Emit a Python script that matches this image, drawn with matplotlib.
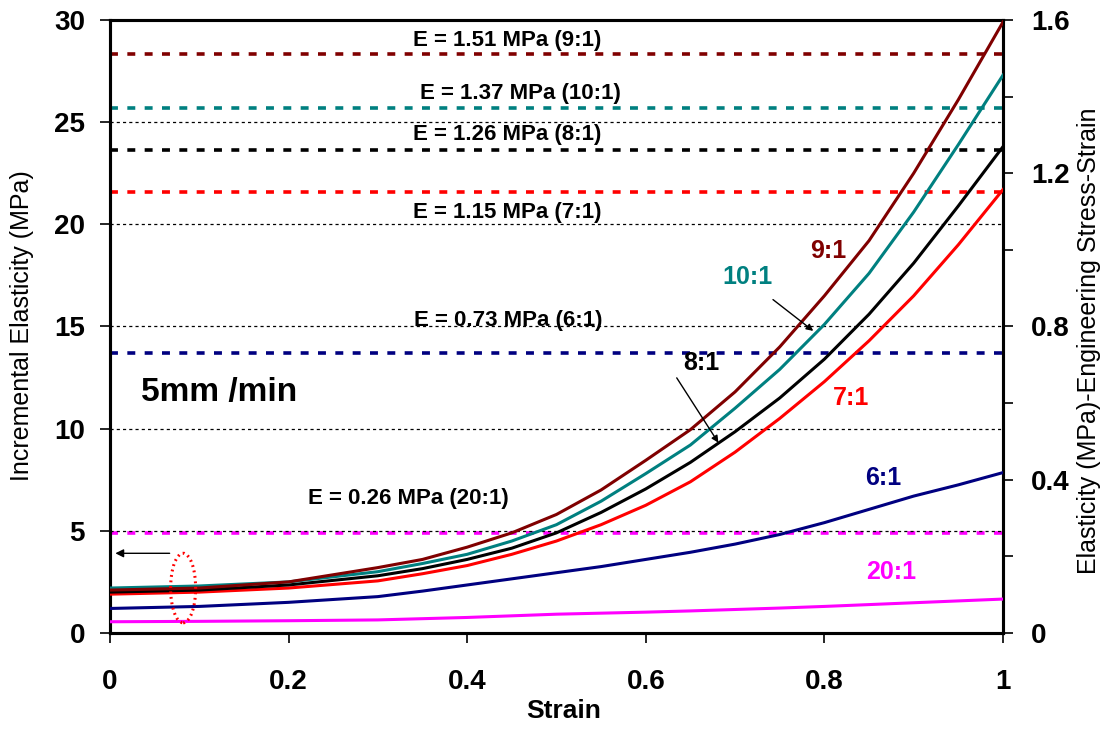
import matplotlib
matplotlib.use("Agg")
import matplotlib.pyplot as plt
from matplotlib.patches import Ellipse
import numpy as np

plt.rcParams['font.family'] = ['Liberation Sans', 'DejaVu Sans']

strain = [0.0, 0.1, 0.2, 0.3, 0.35, 0.4, 0.45, 0.5, 0.55, 0.6, 0.65, 0.7, 0.75, 0.8, 0.85, 0.9, 0.95, 1.0]
e_9_1 = [2.1, 2.2, 2.5, 3.2, 3.6, 4.2, 4.9, 5.8, 7.0, 8.45, 9.95, 11.8, 14.0, 16.5, 19.2, 22.5, 26.1, 29.9]
e_10_1 = [2.2, 2.3, 2.5, 3.0, 3.4, 3.85, 4.5, 5.3, 6.45, 7.8, 9.2, 11.0, 12.9, 15.1, 17.6, 20.6, 23.9, 27.3]
e_8_1 = [2.0, 2.1, 2.35, 2.8, 3.15, 3.6, 4.15, 4.9, 5.9, 7.05, 8.35, 9.85, 11.5, 13.4, 15.6, 18.1, 20.9, 23.8]
e_7_1 = [1.9, 2.0, 2.2, 2.55, 2.9, 3.3, 3.85, 4.5, 5.3, 6.25, 7.4, 8.85, 10.5, 12.3, 14.3, 16.5, 19.0, 21.7]
e_6_1 = [1.2, 1.3, 1.5, 1.78, 2.05, 2.35, 2.65, 2.95, 3.25, 3.6, 3.95, 4.35, 4.82, 5.4, 6.05, 6.7, 7.25, 7.85]
e_20_1 = [0.55, 0.57, 0.6, 0.64, 0.7, 0.76, 0.84, 0.92, 0.97, 1.02, 1.08, 1.15, 1.22, 1.3, 1.39, 1.48, 1.57, 1.66]

ratios = ['9:1', '10:1', '8:1', '7:1', '6:1', '20:1']
colors = ['#800000', '#008080', '#000000', '#FF0000', '#000080', '#FF00FF']
moduli = [1.51, 1.37, 1.26, 1.15, 0.73, 0.26]
mod_labels = ["E = 1.51 MPa (9:1)", "E = 1.37 MPa (10:1)", "E = 1.26 MPa (8:1)",
              "E = 1.15 MPa (7:1)", "E = 0.73 MPa (6:1)", "E = 0.26 MPa (20:1)"]

fig = plt.figure(figsize=(11.1, 7.29), dpi=100)
ax = fig.add_axes([0.099, 0.1317, 0.8046, 0.8409])
ax2 = ax.twinx()

ax.set_xlim(0, 1)
ax.set_ylim(0, 30)
ax2.set_ylim(0, 1.6)

# grid lines
for g in [5, 10, 15, 20, 25]:
    ax.axhline(g, color='black', lw=0.9, ls=(0, (2.5, 2.5)), zorder=1)

# modulus lines on right axis
for m, c in zip(moduli, colors):
    ax2.axhline(m, color=c, lw=2.6, ls=(0, (2.2, 2.6)), zorder=2)

series = [e_9_1, e_10_1, e_8_1, e_7_1, e_6_1, e_20_1]
for i in [5, 4, 3, 2, 1, 0]:
    ax.plot(strain, series[i], color=colors[i], lw=2.2, zorder=3, solid_joinstyle='round')

ax.set_zorder(ax2.get_zorder() + 1)
ax.patch.set_visible(False)

# E labels (positions in strain / left-axis units)
elab_pos = [(0.445, 29.0), (0.46, 26.4), (0.445, 24.4), (0.445, 20.6), (0.446, 15.3), (0.334, 6.6)]
for t, (x, y) in zip(mod_labels, elab_pos):
    ax.text(x, y, t, ha='center', va='center', fontsize=16, fontweight='bold', color='black', zorder=5)

ax.text(0.035, 11.75, "5mm /min", fontsize=24, fontweight='bold', va='center', ha='left')

# curve labels
clab_pos = [(0.804, 18.7), (0.714, 17.4), (0.662, 13.2), (0.83, 11.5), (0.866, 7.6), (0.875, 3.0)]
for t, (x, y), c in zip(ratios, clab_pos, colors):
    ax.text(x, y, t, ha='center', va='center', fontsize=18, fontweight='bold', color=c, zorder=5)

ax.annotate("", xy=(0.79, 14.7), xytext=(0.74, 16.4),
            arrowprops=dict(arrowstyle='-|>', color='black', lw=1.0, mutation_scale=10), zorder=5)
ax.annotate("", xy=(0.683, 9.2), xytext=(0.633, 12.6),
            arrowprops=dict(arrowstyle='-|>', color='black', lw=1.0, mutation_scale=10), zorder=5)
ax.annotate("", xy=(0.003, 3.9), xytext=(0.07, 3.9),
            arrowprops=dict(arrowstyle='-|>', color='black', lw=1.0, mutation_scale=12), zorder=5)
ax.add_patch(Ellipse((0.082, 2.2), 0.028, 3.4, fill=False, edgecolor='red', lw=2.2,
                     ls=(0, (0.6, 1.2)), zorder=6))

# ticks
ax.set_xticks([0, 0.2, 0.4, 0.6, 0.8, 1.0])
ax.set_xticklabels(['0', '0.2', '0.4', '0.6', '0.8', '1'])
ax.set_yticks([0, 5, 10, 15, 20, 25, 30])
ax2.set_yticks([0, 0.4, 0.8, 1.2, 1.6])
ax2.set_yticklabels(['0', '0.4', '0.8', '1.2', '1.6'])
ax2.set_yticks(np.arange(0, 1.61, 0.2), minor=True)

for a in (ax, ax2):
    a.tick_params(axis='both', which='major', labelsize=20, length=7, width=1.2, direction='out')
    a.tick_params(axis='both', which='minor', length=7, width=1.2, direction='out')
    for lab in a.get_xticklabels() + a.get_yticklabels():
        lab.set_fontweight('bold')
    for s in a.spines.values():
        s.set_linewidth(2.2)
ax.tick_params(axis='x', pad=19)
ax.tick_params(axis='y', pad=11)
ax2.tick_params(axis='y', pad=13)

fig.text(564 / 1110, 1 - 711 / 729, "Strain", fontsize=19, fontweight='bold', ha='center', va='center')
fig.text(22 / 1110, 1 - 326 / 729, "Incremental Elasticity (MPa)", fontsize=18, rotation=90,
         ha='center', va='center')
fig.text(1089 / 1110, 1 - 341 / 729, "Elasticity (MPa)-Engineering Stress-Strain", fontsize=18,
         rotation=90, ha='center', va='center')

fig.savefig("out.png", dpi=100)
